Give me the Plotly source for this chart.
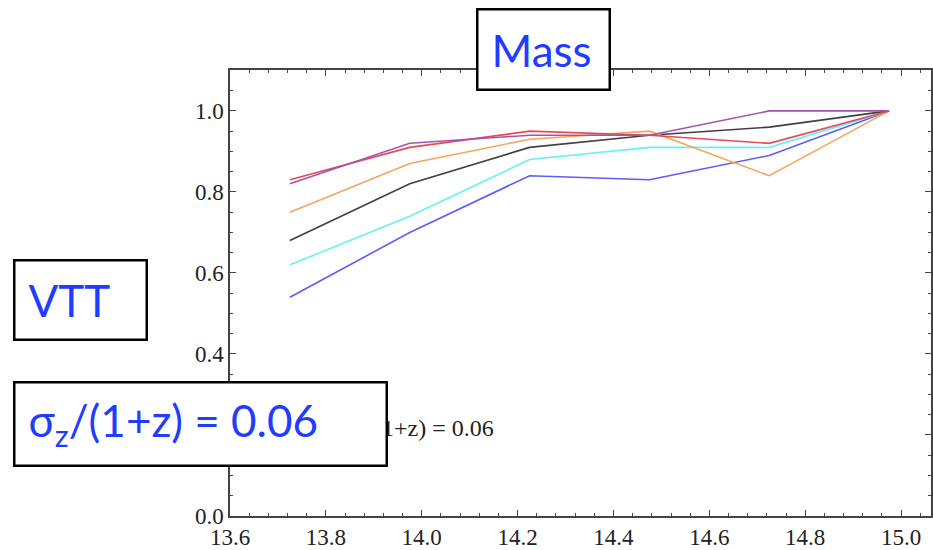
import plotly.graph_objects as go

# Mass bin centres (log M) and completeness per curve
mass_bins = [13.725, 13.975, 14.225, 14.475, 14.725, 14.975]
curve_names = ["c1", "c2", "c3", "c4", "c5", "c6"]
blue_vals = [0.54, 0.70, 0.84, 0.83, 0.89, 1.00]
cyan_vals = [0.62, 0.74, 0.88, 0.91, 0.91, 1.00]
black_vals = [0.68, 0.82, 0.91, 0.94, 0.96, 1.00]
orange_vals = [0.75, 0.87, 0.93, 0.95, 0.84, 1.00]
red_vals = [0.83, 0.91, 0.95, 0.94, 0.92, 1.00]
purple_vals = [0.82, 0.92, 0.94, 0.94, 1.00, 1.00]

series = [blue_vals, cyan_vals, black_vals, orange_vals, red_vals, purple_vals]
colors = ["#5c5cff", "#66f2f2", "#404040", "#f4a65e", "#e64a52", "#a552b2"]

W, H = 933, 550
L, R, T, B = 230, 0, 70, 34
PW, PH = W - L - R, H - T - B


def px(x):
    return (x - L) / PW


def py(y):
    return (H - B - y) / PH


fig = go.Figure()
for name, vals, col in zip(curve_names, series, colors):
    fig.add_trace(go.Scatter(x=mass_bins, y=vals, mode="lines", name=name,
                             line=dict(color=col, width=1.6), showlegend=False))

serif = dict(family="Liberation Serif", size=23, color="#222")
axis_common = dict(showline=True, linecolor="#444", linewidth=1.5, mirror="ticks",
                   ticks="inside", ticklen=6, tickwidth=1, tickcolor="#444",
                   showgrid=False, zeroline=False, tickfont=serif, tickformat=".1f")

fig.update_xaxes(range=[13.6, 15.0624], tick0=13.6, dtick=0.2,
                 minor=dict(dtick=0.04, ticks="inside", ticklen=3, tickcolor="#444"),
                 **axis_common)
fig.update_yaxes(range=[0, 1.101], tick0=0, dtick=0.2,
                 minor=dict(dtick=0.05, ticks="inside", ticklen=3, tickcolor="#444"),
                 **axis_common)

blue = "#1f3cff"
sans = dict(family="Lato", size=44, color=blue)

annotations = []
# in-plot label (mostly hidden under the overlay box)
annotations.append(dict(xref="paper", yref="paper", x=px(497), y=py(430),
                        xanchor="right", yanchor="middle", showarrow=False,
                        text="σ<sub>z</sub>/(1+z) = 0.06",
                        font=dict(family="Liberation Serif", size=24, color="#222")))

BW, PAD = 2.5, 13


def box(x0, y0, x1, y1, text):
    full = BW + PAD
    return dict(xref="paper", yref="paper", x=px(x0), y=py(y0), xanchor="left",
                yanchor="top", showarrow=False, text=text, font=sans,
                align="left", valign="middle",
                width=x1 - x0 - 2 * full, height=y1 - y0 - 2 * full,
                bgcolor="white", bordercolor="black", borderwidth=BW, borderpad=PAD)


annotations += [box(477, 8, 612, 91, "Mass"),
                box(12, 259, 147, 341, "VTT"),
                box(12, 381, 387, 467, "σ<sub>z</sub>/(1+z) = 0.06")]

fig.update_layout(width=W, height=H, margin=dict(l=L, r=R, t=T, b=B),
                  plot_bgcolor="white", paper_bgcolor="white",
                  annotations=annotations)

fig.write_html("out.html")
